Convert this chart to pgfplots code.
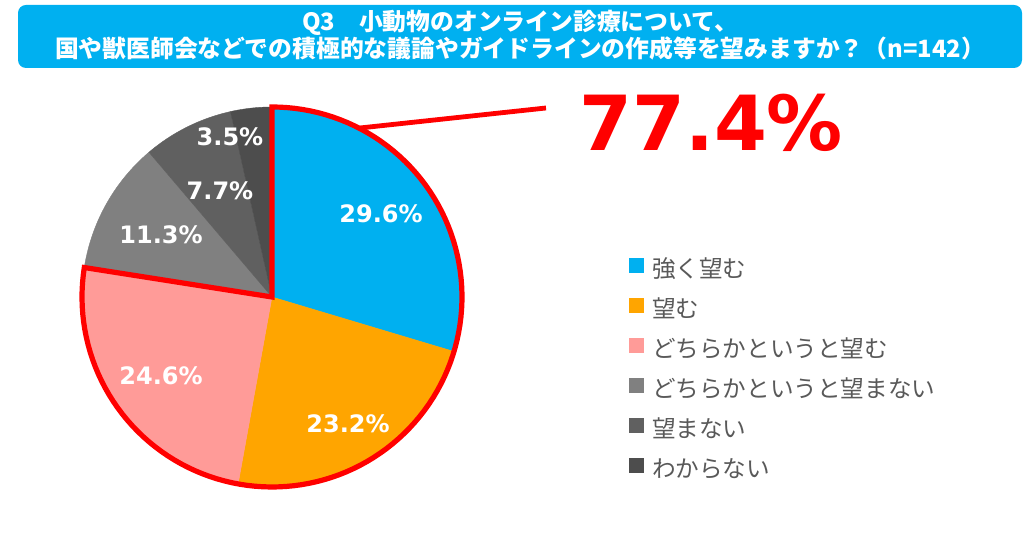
\documentclass[border=0pt]{standalone}
\usepackage{fontspec}
\usepackage{pgfplots}
\usepackage{pgfplotstable}
\pgfplotsset{compat=1.18}
\newfontfamily\jp{Noto Sans CJK JP}
\newfontfamily\dv{DejaVu Sans}
\definecolor{cA}{HTML}{00B0F0}
\definecolor{cB}{HTML}{FFA500}
\definecolor{cC}{HTML}{FF9B98}
\definecolor{cD}{HTML}{808080}
\definecolor{cE}{HTML}{606060}
\definecolor{cF}{HTML}{4D4D4D}
\definecolor{titlebg}{HTML}{00B0F0}
\definecolor{legtext}{HTML}{595959}
% slice values (percent), clockwise from 12 o'clock
\def\vA{29.6}\def\vB{23.2}\def\vC{24.6}\def\vD{11.3}\def\vE{7.7}\def\vF{3.5}
\pgfmathsetmacro\tot{\vA+\vB+\vC+\vD+\vE+\vF}
\pgfmathsetmacro\aA{90}
\pgfmathsetmacro\aB{\aA-360*\vA/\tot}
\pgfmathsetmacro\aC{\aB-360*\vB/\tot}
\pgfmathsetmacro\aD{\aC-360*\vC/\tot}
\pgfmathsetmacro\aE{\aD-360*\vD/\tot}
\pgfmathsetmacro\aF{\aE-360*\vE/\tot}
\pgfmathsetmacro\aG{\aF-360*\vF/\tot}
\def\cx{272}\def\cy{252}\def\R{190}
\pgfplotstableread{
x y label
381 335 29.6\%
348 125 23.2\%
161 173 24.6\%
161 314.5 11.3\%
220 358.5 7.7\%
230 412.5 3.5\%
}\labeltab
\begin{document}
\begin{tikzpicture}
\begin{axis}[
  scale only axis, width=512pt, height=274.5pt,
  xmin=0, xmax=1024, ymin=0, ymax=549,
  hide axis, clip=false,
  legend style={at={(axis cs:629,291.4)}, anchor=north west, draw=none, fill=none,
    inner sep=0pt, outer sep=0pt, row sep=8pt, /tikz/column sep=4pt,
    font=\jp\fontsize{11.8}{12}\selectfont, text=legtext,
    nodes={inner sep=0pt, text height=10pt, text depth=2pt}},
  legend cell align=left,
  legend image code/.code={\fill[#1,draw=none] (0pt,-1.8pt) rectangle (7.5pt,5.7pt);},
]
\path (rel axis cs:0,0) rectangle (rel axis cs:1,1);
% title box
\fill[titlebg, rounded corners=4pt] (axis cs:18,544) rectangle (axis cs:1022,481);
\node[font=\jp\bfseries\fontsize{11.9}{13.5}\selectfont, text=white, align=center]
  at (axis cs:520,513.5) {Q3　小動物のオンライン診療について、\\国や獣医師会などでの積極的な議論やガイドラインの作成等を望みますか？（n=142）};
% slices
\addplot[fill=cA, draw=cA, line width=0.2pt, domain=\aB:\aA, samples=80] ({\cx+\R*cos(x)},{\cy+\R*sin(x)}) -- (axis cs:\cx,\cy) -- cycle;
\addlegendentry{強く望む}
\addplot[fill=cB, draw=cB, line width=0.2pt, domain=\aC:\aB, samples=80] ({\cx+\R*cos(x)},{\cy+\R*sin(x)}) -- (axis cs:\cx,\cy) -- cycle;
\addlegendentry{望む}
\addplot[fill=cC, draw=cC, line width=0.2pt, domain=\aD:\aC, samples=80] ({\cx+\R*cos(x)},{\cy+\R*sin(x)}) -- (axis cs:\cx,\cy) -- cycle;
\addlegendentry{どちらかというと望む}
\addplot[fill=cD, draw=cD, line width=0.2pt, domain=\aE:\aD, samples=40] ({\cx+\R*cos(x)},{\cy+\R*sin(x)}) -- (axis cs:\cx,\cy) -- cycle;
\addlegendentry{どちらかというと望まない}
\addplot[fill=cE, draw=cE, line width=0.2pt, domain=\aF:\aE, samples=30] ({\cx+\R*cos(x)},{\cy+\R*sin(x)}) -- (axis cs:\cx,\cy) -- cycle;
\addlegendentry{望まない}
\addplot[fill=cF, draw=cF, line width=0.2pt, domain=\aG:\aF, samples=20] ({\cx+\R*cos(x)},{\cy+\R*sin(x)}) -- (axis cs:\cx,\cy) -- cycle;
\addlegendentry{わからない}
% red outline around the first three slices (77.4%)
\addplot[red, line width=2.6pt, line join=miter, domain=\aD:\aA, samples=120, forget plot] ({\cx+\R*cos(x)},{\cy+\R*sin(x)}) -- (axis cs:\cx,\cy) -- cycle;
\addplot[red, line width=2.4pt, forget plot] coordinates {(360,421) (546,441)};
% data labels
\addplot[draw=none, mark=none, forget plot, nodes near coords, point meta=explicit symbolic,
  every node near coord/.append style={anchor=center, text=white, font=\dv\bfseries\fontsize{12}{14}\selectfont}]
  table[x=x, y=y, meta=label] {\labeltab};
\node[font=\dv\bfseries\fontsize{38}{40}\selectfont, text=red, anchor=base west, inner sep=0pt] at (axis cs:579,398) {77.4\%};
\end{axis}
\end{tikzpicture}
\end{document}
